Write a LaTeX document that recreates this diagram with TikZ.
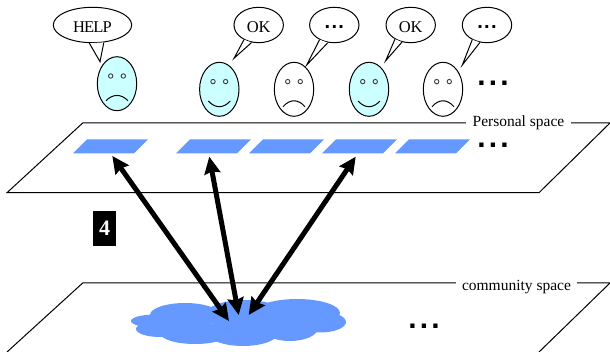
\documentclass[tikz,border=0pt]{standalone}
\usepackage{fontspec}
\setmainfont{Liberation Serif}
\newfontfamily\dotfont{Liberation Sans}
\usetikzlibrary{shapes.geometric,arrows.meta}
\definecolor{spaceblue}{RGB}{102,153,255}
\definecolor{facecyan}{RGB}{204,255,255}
\newcommand{\bigdots}{{\fontsize{30}{30}\dotfont\bfseries .\hspace{3.2pt}.\hspace{3.2pt}.}}
\newcommand{\smalldots}{{\fontsize{20}{20}\dotfont\bfseries .\hspace{1.4pt}.\hspace{1.4pt}.}}
\newcommand{\helpword}{H\kern-.8pt E\kern-.9pt L\kern-.8pt P}
\tikzset{
  planeline/.style={line width=1pt},
  spacelabel/.style={fill=white, inner xsep=6.5pt, inner ysep=1pt, font=\fontsize{15.5}{17}\selectfont},
  slotbox/.style={rectangle, xslant=1, transform shape, fill=spaceblue, inner sep=0pt, minimum width=61pt, minimum height=14pt},
  facebox/.style={ellipse, draw, line width=1pt, inner sep=0pt, minimum width=39.4pt, minimum height=54pt},
  eyedot/.style={circle, draw=black!75, line width=0.9pt, inner sep=0pt, minimum size=4.4pt},
  bubblebox/.style={ellipse, draw, line width=1pt, fill=white, inner sep=0pt, minimum height=35.4pt},
  bubbletext/.style={inner sep=0pt, font=\fontsize{16.5}{18}\selectfont},
  dotsnode/.style={inner sep=0pt, anchor=base},
  linkarrow/.style={line width=5pt, >={Stealth[inset=2pt,length=17pt,width=16pt]}, <->},
}

\begin{document}
\begin{tikzpicture}[x=1pt,y=-1pt]
  \useasboundingbox (0,0) rectangle (610,352);
  \clip (0,0) rectangle (610,352);

  % the two planes
  \draw[planeline] (82.7,123) -- (610,123) -- (539,192.7) -- (7,192.7) -- cycle;
  \draw[planeline] (7,352) -- (82.7,283) -- (610,283) -- (539,352);
  \node[spacelabel] (personal) at (518.5,122.5) {Personal space};
  \node[spacelabel] (community) at (516.5,287) {community space};

  % slots in the personal space
  \foreach \n/\sx in {1/110.5,2/213.5,3/286.5,4/359.5,5/432.5}
    \node[slotbox] (slot\n) at (\sx,146.3) {};

  % faces
  \foreach \n/\fx/\fy/\fc/\m/\k in {1/117/83.7/facecyan/17/10,
                                    2/219.3/89.3/facecyan/11.7/19.3,
                                    3/294/89.3/white/17.4/9.5,
                                    4/369/89.3/facecyan/11.7/19.3,
                                    5/443/89.3/white/17.4/9.5} {
    \node[facebox, fill=\fc] (face\n) at (\fx,\fy) {};
    \node[eyedot] (eyeL\n) at (\fx-6.3,\fy-7.7) {};
    \node[eyedot] (eyeR\n) at (\fx+6.3,\fy-7.7) {};
    \draw[line width=1pt] (\fx-11,\fy+\m) .. controls (\fx-4,\fy+\k) and (\fx+4,\fy+\k) .. (\fx+11,\fy+\m);
  }

  % speech bubbles
  \foreach \n/\bx/\bw/\tx/\ty/\angA/\angB/\txt in {1/92.5/78.4/100/61.7/-100/-57/\helpword,
                                                   2/258.7/49.4/234/58.3/-135/-112/OK,
                                                   3/334.3/49.4/306.7/65/-135/-110/\smalldots,
                                                   4/410.7/49.4/385.7/60.7/-138/-117/OK,
                                                   5/487/49.4/462.3/65/-135/-112/\smalldots} {
    \node[bubblebox, minimum width=\bw pt] (bubble\n) at (\bx,25) {};
    \coordinate (tail\n) at (\tx,\ty);
    \draw[line width=1pt, fill=white] (bubble\n.\angA) -- (tail\n) -- (bubble\n.\angB);
    \node[bubbletext] (say\n) at (\bx,27.2) {\txt};
  }

  % dots
  \node[dotsnode] (moreFaces) at (493,85.3) {\bigdots};
  \node[dotsnode] (moreSlots) at (493,147.3) {\bigdots};
  \node[dotsnode] (moreCommunity) at (424,328.3) {\bigdots};

  % community cloud
  \foreach \cx/\cy/\rx/\ry in {155/321/24/6.5, 185/315/35/12, 160/329/24/8, 195/333/35/11,
                               243/332/36/14, 245/315/40/15, 297/313/43/14, 320/322/26/10.5, 290/328/28/13}
    \fill[spaceblue] (\cx,\cy) ellipse [x radius=\rx, y radius=\ry];
  \coordinate (cloudA) at (229,321);
  \coordinate (cloudB) at (238.7,315);
  \coordinate (cloudC) at (248.7,315);

  % links
  \draw[linkarrow] (cloudA) -- ([xshift=1.8pt,yshift=-9.7pt]slot1.center);
  \draw[linkarrow] (cloudB) -- ([xshift=-4.2pt,yshift=-10.4pt]slot2.center);
  \draw[linkarrow] (cloudC) -- ([xshift=-3.8pt,yshift=-10.4pt]slot4.center);

  % badge
  \node[fill=black, text=white, inner sep=0pt, minimum width=22.7pt, minimum height=35pt, font=\fontsize{22}{24}\selectfont\bfseries] (badge) at (104.7,228.2) {4};
\end{tikzpicture}
\end{document}
